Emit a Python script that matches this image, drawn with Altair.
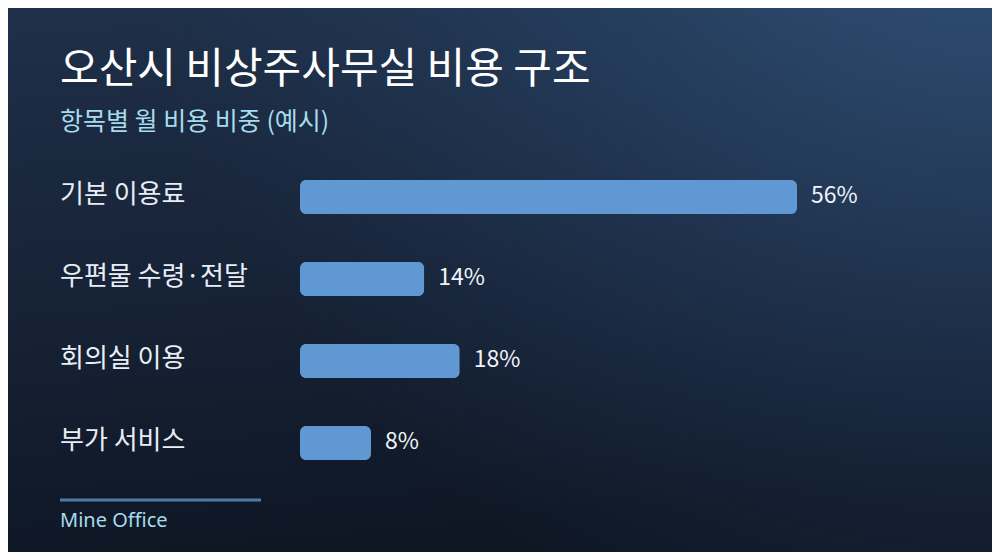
import altair as alt
import pandas as pd

categories = ["기본 이용료", "우편물 수령·전달", "회의실 이용", "부가 서비스"]
shares = [56, 14, 18, 8]
title_text = "오산시 비상주사무실 비용 구조"
subtitle_text = "항목별 월 비용 비중 (예시)"
footer_text = "Mine Office"

W, H = 984, 544
FONT = "Noto Sans CJK KR"

df = pd.DataFrame({"category": categories, "share": shares})
df["label"] = [f"{v}%" for v in shares]
one = pd.DataFrame({"k": [0]})

xs = alt.Scale(domain=[0, 56], range=[292, 789])
ys = alt.Scale(domain=categories, range=[148, 476], paddingInner=0, paddingOuter=0)

bg = alt.Chart(one).mark_rect(
    fill={"gradient": "linear", "x1": 0, "y1": 0, "x2": 0.15, "y2": 1,
          "stops": [{"offset": 0, "color": "#1f3049"},
                    {"offset": 0.5, "color": "#172337"},
                    {"offset": 1, "color": "#0f1725"}]}
).encode(x=alt.value(0), x2=alt.value(W), y=alt.value(0), y2=alt.value(H))

glow = alt.Chart(one).mark_rect(
    fill={"gradient": "radial", "x1": 1, "y1": 0, "r1": 0, "x2": 1, "y2": 0, "r2": 0.9,
          "stops": [{"offset": 0, "color": "rgba(52,88,130,1)"},
                    {"offset": 0.35, "color": "rgba(46,78,116,0.7)"},
                    {"offset": 1, "color": "rgba(35,60,95,0)"}]}
).encode(x=alt.value(0), x2=alt.value(W), y=alt.value(0), y2=alt.value(H))

bars = alt.Chart(df).mark_bar(size=34, cornerRadius=6, color="#5f98d3").encode(
    x=alt.X("share:Q", scale=xs, axis=None),
    y=alt.Y("category:N", scale=ys, axis=None, sort=categories),
)

cat_labels = alt.Chart(df).mark_text(
    align="left", baseline="middle", font=FONT, fontSize=26, color="#e8eef6", dy=-2
).encode(
    x=alt.value(52),
    y=alt.Y("category:N", scale=ys, axis=None, sort=categories),
    text="category:N",
)

val_labels = alt.Chart(df).mark_text(
    align="left", baseline="middle", font=FONT, fontSize=23, color="#f0f4f9", dx=14, dy=-1
).encode(
    x=alt.X("share:Q", scale=xs, axis=None),
    y=alt.Y("category:N", scale=ys, axis=None, sort=categories),
    text="label:N",
)

title = alt.Chart(pd.DataFrame({"t": [title_text]})).mark_text(
    align="left", baseline="middle", font=FONT, fontSize=42, fontWeight="normal", color="#ffffff"
).encode(x=alt.value(52), y=alt.value(62), text="t:N")

subtitle = alt.Chart(pd.DataFrame({"t": [subtitle_text]})).mark_text(
    align="left", baseline="middle", font=FONT, fontSize=25, color="#a6dcee"
).encode(x=alt.value(52), y=alt.value(114), text="t:N")

rule = alt.Chart(one).mark_rule(color="#4e7aab", strokeWidth=3).encode(
    x=alt.value(52), x2=alt.value(253), y=alt.value(492)
)

footer = alt.Chart(pd.DataFrame({"t": [footer_text]})).mark_text(
    align="left", baseline="middle", font="Noto Sans", fontSize=20, color="#a6dcee"
).encode(x=alt.value(52), y=alt.value(513), text="t:N")

chart = alt.layer(bg, glow, bars, cat_labels, val_labels, title, subtitle, rule, footer).properties(
    width=W, height=H, padding=0, autosize=alt.AutoSizeParams(type="none"),
    background="#111a27",
).configure_view(stroke=None)

chart.save("out.html", embed_options={"renderer": "svg", "actions": False})
